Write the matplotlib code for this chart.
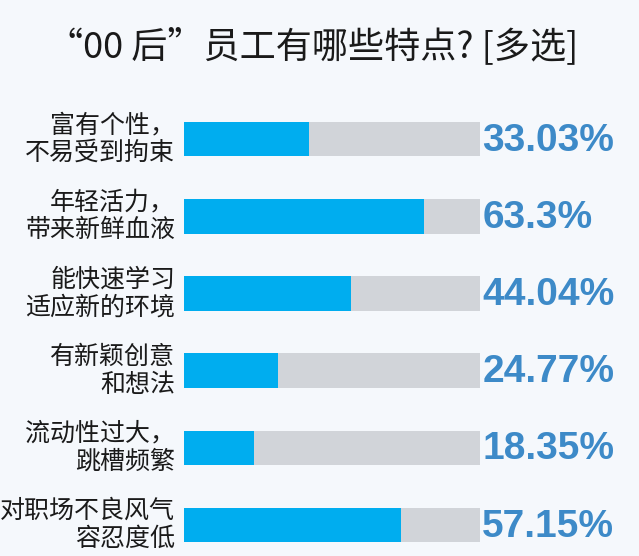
import matplotlib.pyplot as plt

plt.rcParams['font.family'] = ['Noto Sans CJK SC', 'DejaVu Sans']

labels = ['富有个性，\n不易受到拘束',
          '年轻活力，\n带来新鲜血液',
          '能快速学习\n适应新的环境',
          '有新颖创意\n和想法',
          '流动性过大，\n跳槽频繁',
          '对职场不良风气\n容忍度低']
values = [33.03, 63.3, 44.04, 24.77, 18.35, 57.15]
value_text = ['33.03%', '63.3%', '44.04%', '24.77%', '18.35%', '57.15%']
track_max = 78

W, H = 639, 556
fig = plt.figure(figsize=(W / 100, H / 100), dpi=100)
fig.patch.set_facecolor('#f5f8fc')

# axes placed so that x=0 is at px 184 and x=track_max at px 480
ax = fig.add_axes([184 / W, 0, 296 / W, 456 / H])
ax.set_facecolor('none')
ax.set_xlim(0, track_max)
ax.set_ylim(5.40, -0.505)
ax.axis('off')

ypos = list(range(len(values)))
ax.barh(ypos, [track_max] * len(values), height=0.45, color='#d1d4d9')
ax.barh(ypos, values, height=0.45, color='#00adef')

for i in ypos:
    ax.text(-2.3, i, labels[i], ha='right', va='center', multialignment='right',
            fontsize=18, color='#1a1a1a', linespacing=1.1, clip_on=False)
    ax.text(track_max + 0.6, i + 0.02, value_text[i], ha='left', va='center',
            fontsize=28, fontweight='bold', color='#3d8ac8',
            family=['Liberation Sans', 'DejaVu Sans'], clip_on=False)

fig.text(0.49, 1 - 46 / H, '“00 后”员工有哪些特点? [多选]', ha='center', va='center',
         fontsize=26, fontweight='medium', color='#1a1a1a')

fig.savefig('out.png', dpi=100, facecolor=fig.get_facecolor())
